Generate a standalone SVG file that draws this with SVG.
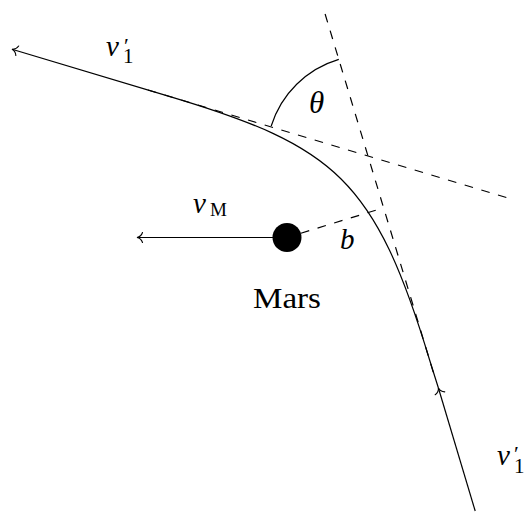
<svg xmlns="http://www.w3.org/2000/svg" width="525" height="514" viewBox="0 0 525 514">
<style>
.ln{fill:none;stroke:#000;stroke-width:1.2}
.ds{fill:none;stroke:#000;stroke-width:1.2;stroke-dasharray:8.7 8.7}
.mi{font-family:"Liberation Serif",serif;font-style:italic;fill:#000}
.rm{font-family:"Liberation Serif",serif;fill:#000}
</style>
<defs>
<marker id="ah" markerUnits="userSpaceOnUse" orient="auto" markerWidth="14" markerHeight="14" refX="0" refY="0" viewBox="-8 -7 10 14" overflow="visible">
<path d="M-5.5,-5 C-4.5,-2 -2,-0.4 0,0 C-2,0.4 -4.5,2 -5.5,5" fill="none" stroke="#000" stroke-width="1.1" stroke-linecap="round"/>
</marker>
</defs>
<g id="connectors">
<path id="asym-out" class="ds" d="M148,90 L511,198.9"/>
<path id="asym-in" class="ds" d="M325.1,14 L433.5,373"/>
<path id="traj-in" class="ln" d="M475.2,511 L438.4,388" marker-end="url(#ah)"/>
<path id="traj" class="ln" d="M438.4,388 L429.6,360 C375,179.1 334.7,145.9 170,96.6 L12,49.2" marker-end="url(#ah)"/>
<path id="impact" class="ds" d="M300.9,233.2 L383.6,207.8"/>
<path id="vm-arrow" class="ln" d="M287,237.5 L137,237.5" marker-end="url(#ah)"/>
<path id="theta-arc" class="ln" d="M271.2,126 A101,101 0 0 1 338.8,59.3"/>
</g>
<g id="mars">
<circle cx="287" cy="237.5" r="14.5" fill="#000"/>
<text class="rm" x="253" y="308" font-size="30" textLength="68" lengthAdjust="spacingAndGlyphs">Mars</text>
</g>
<g id="labels">
<text id="v1-top" class="rm" x="106" y="56" font-size="29"><tspan class="mi">v</tspan><tspan x="124" y="53" font-size="22">′</tspan><tspan x="123" y="63" font-size="21">1</tspan></text>
<text id="v1-bottom" class="rm" x="497" y="465" font-size="29"><tspan class="mi">v</tspan><tspan x="514" y="461" font-size="22">′</tspan><tspan x="514" y="473" font-size="21">1</tspan></text>
<text id="vM" class="rm" x="193" y="213" font-size="29"><tspan class="mi">v</tspan><tspan x="210" y="216" font-size="19">M</tspan></text>
<text id="theta" class="mi" x="309" y="113" font-size="31">θ</text>
<text id="b" class="mi" x="340" y="249" font-size="29">b</text>
</g>
</svg>
